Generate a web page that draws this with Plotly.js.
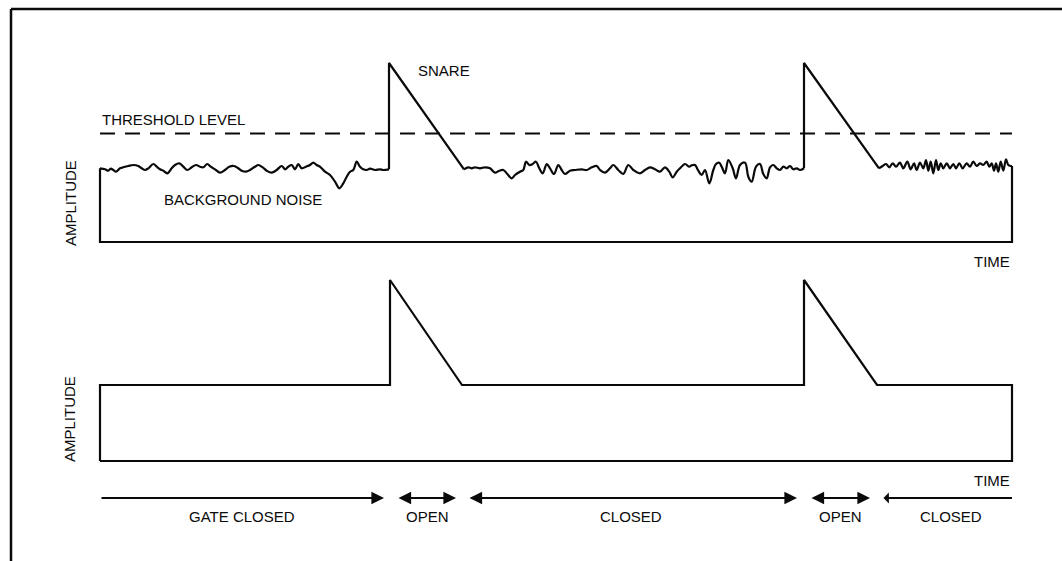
<!DOCTYPE html>
<html>
<head>
<meta charset="utf-8">
<script src="https://cdn.plot.ly/plotly-3.0.1.min.js"></script>
<style>
html,body{margin:0;padding:0;background:#fff;}
#chart{width:1062px;height:561px;}
</style>
</head>
<body>
<div id="chart"></div>
<script>
// ---- DATA (time units along the axis, amplitude units up) ----
const timeEnd = 912;
const thresholdLevel = 108.5;

// input signal: background noise segments
const noise1T = [0,5,8.3,10.7,13.3,16,20,23.3,28.3,33.3,38.3,41.7,45,48.3,53.3,56.7,60,63.3,67.3,71.7,75,79.3,83.3,87.3,91.7,96,100,103.3,107.3,110.7,115,120,125,129.3,134,138.3,141.7,146,150,155,158.3,162.7,166.7,171.7,176.7,181.7,185,188.3,191.7,195,198.3,201.7,206,210,213.3,216.7,220.7,225,230,235,239.3,243.3,246.7,250,253.3,256.7,260,263.3,266.7,270,275,280,283.3,289];
const noise1A = [73.7,72.7,71.3,73.3,72,70.3,73.7,74.7,76,77,76,73.7,72,73.7,78,75.3,72.7,71.3,68.7,73.7,77,78.7,75.3,72,74.7,77,75.3,74.7,78,75.3,72.7,69.3,72,75.3,76,73.7,71.3,70.3,72,75.3,77,74.7,71.3,69.3,72,76,72.7,75.3,77,72.7,78,73.7,75.3,77,79.3,77,74.7,70.3,67,60.3,53.7,58.7,65.3,70.3,72,80.3,75.3,72.7,72,73.3,72,72.7,72,72.7];

const noise2T = [364,368.3,371.7,375,380,385,390,395,399.3,403.3,407.3,411.7,415,420,423.3,426,429.3,432.7,436,439.3,442.7,446.7,450,454,458.3,461.7,465,470,475,481.7,486.7,491.7,496.7,500,505,510,513.3,518.3,523.3,528.3,533.3,540,545,550,555,560,565,569.3,572.7,576.7,580,585,589.3,591.7,595,598.3,601.7,605,609.3,613.3,616,619.3,621.7,625,628.3,632.7,636,640,645,648.3,651.7,656,660,663.3,666.7,670,673.3,676.7,680,683.3,686.7,690,693.3,696.7,700,704];
const noise2A = [72.7,74.7,73.7,74.7,73.7,74.7,73.7,69.3,71.3,72,68,63.7,67,70.3,72,80.3,77,78,80.3,73.7,68.7,78,73.7,68,77,72,68,71.3,72,72.7,72,74.7,76,72,69.3,73.7,77,72,68,77,72,68.7,72,74.7,72.7,70.3,74.7,70.3,64.7,70.3,73.7,78,75.3,76.7,77,71.3,67,72,58.7,72,78,79.3,75.3,68.7,82,73.7,63.7,77,79.3,65.3,60.3,75.3,78,68,63.7,74.7,77,73.7,72,75.3,73.7,76,72.7,73.7,72,73.7];

const noise3T = [779,782.7,786,789.3,792.7,796,800,803.3,807.3,810.7,814,816.7,820,823.3,826,828.3,830.7,833.3,836,838.3,840.7,843.3,846.7,850,853.3,856,859.3,862.7,866.7,870,873.3,876.7,880,883.3,886.7,889.3,891.7,894,896,898.3,900.7,903.3,906,908.3,910.7,912];
const noise3A = [73.7,76,78,74.7,78.7,75.3,79.3,73.7,80.3,72.7,78.7,72,79.3,73.7,82,71.3,80.3,68.7,82,72,78.7,73.7,78.7,73.7,78,73.7,78.7,73.7,78.7,75.3,80.3,76,78.7,77,80.3,75.3,78.7,71.3,78.7,70.3,80.3,71.3,82.7,77,76,76];

// snare hits (onset time and peak amplitude)
const snareOnsetT = [289, 704];
const snarePeakA = [179, 179];

// gate output (lower graph)
const gateT = [0, 0, 290, 290, 362, 704, 704, 777, 912, 912, 0];
const gateA = [0, 76, 76, 181, 76, 76, 181, 76, 76, 0, 0];

// gate state spans
const spanStart = [0, 297, 368, 710, 782];
const spanEnd = [284, 356, 697, 770, 912];
const spanSide = ['end', 'end+start', 'end+start', 'end+start', 'start'];
const spanLabels = ['GATE CLOSED', 'OPEN', 'CLOSED', 'OPEN', 'CLOSED'];
const spanLabelX = [142, 327, 531, 740, 851];

// ---- BUILD ----
const last = a => a[a.length - 1];
const ink = '#0a0a0a';
const font = {family: 'Liberation Sans, Arial, Helvetica, sans-serif', size: 15, color: ink};
const lineStyle = {color: ink, width: 2.2};

// straight parts of the input signal: snare attacks/decays and the frame
const hitT = [snareOnsetT[0], snareOnsetT[0], noise2T[0], null, snareOnsetT[1], snareOnsetT[1], noise3T[0], null, last(noise3T), timeEnd, 0, 0];
const hitA = [last(noise1A), snarePeakA[0], noise2A[0], null, last(noise2A), snarePeakA[1], noise3A[0], null, last(noise3A), 0, 0, noise1A[0]];

const traces = [
  {x: hitT, y: hitA, xaxis: 'x', yaxis: 'y', mode: 'lines', line: lineStyle, hoverinfo: 'skip', cliponaxis: false, connectgaps: false},
  {x: noise1T, y: noise1A, xaxis: 'x', yaxis: 'y', mode: 'lines', line: Object.assign({shape: 'spline', smoothing: 1}, lineStyle), hoverinfo: 'skip'},
  {x: noise2T, y: noise2A, xaxis: 'x', yaxis: 'y', mode: 'lines', line: Object.assign({shape: 'spline', smoothing: 1}, lineStyle), hoverinfo: 'skip'},
  {x: noise3T, y: noise3A, xaxis: 'x', yaxis: 'y', mode: 'lines', line: Object.assign({shape: 'spline', smoothing: 1}, lineStyle), hoverinfo: 'skip'},
  {x: [0, timeEnd], y: [thresholdLevel, thresholdLevel], xaxis: 'x', yaxis: 'y', mode: 'lines', line: {color: ink, width: 2, dash: '15px,10px'}, hoverinfo: 'skip'},
  {x: gateT, y: gateA, xaxis: 'x', yaxis: 'y2', mode: 'lines', line: lineStyle, hoverinfo: 'skip', cliponaxis: false}
];

const annotations = [
  {x: 0, y: 123, xref: 'x', yref: 'y', text: 'THRESHOLD LEVEL', showarrow: false, xanchor: 'left', font: font},
  {x: 143, y: 43, xref: 'x', yref: 'y', text: 'BACKGROUND NOISE', showarrow: false, xanchor: 'center', font: font},
  {x: 316, y: 172, xref: 'x', yref: 'y', text: 'SNARE', showarrow: false, xanchor: 'left', font: font},
  {x: timeEnd, y: -19, xref: 'x', yref: 'y', text: 'TIME', showarrow: false, xanchor: 'right', font: font},
  {x: -30, y: 39, xref: 'x', yref: 'y', text: 'AMPLITUDE', showarrow: false, textangle: -90, font: font},
  {x: timeEnd, y: -19.6, xref: 'x', yref: 'y2', text: 'TIME', showarrow: false, xanchor: 'right', font: font},
  {x: -31, y: 42, xref: 'x', yref: 'y2', text: 'AMPLITUDE', showarrow: false, textangle: -90, font: font}
];
spanLabels.forEach((lab, i) => {
  annotations.push({x: spanEnd[i], y: -37, ax: spanStart[i], ay: -37, xref: 'x', yref: 'y2', axref: 'x', ayref: 'y2',
    text: '', showarrow: true, arrowhead: 2, arrowsize: 1.4, arrowwidth: 1.8, arrowcolor: ink, arrowside: spanSide[i], standoff: 0, startstandoff: 0});
  annotations.push({x: spanLabelX[i], y: -55, xref: 'x', yref: 'y2', text: lab, showarrow: false, font: font});
});

const hidden = {showgrid: false, zeroline: false, showline: false, showticklabels: false, ticks: '', fixedrange: true};

const layout = {
  width: 1062, height: 561,
  margin: {l: 0, r: 0, t: 0, b: 0},
  paper_bgcolor: '#ffffff', plot_bgcolor: '#ffffff',
  showlegend: false,
  xaxis: Object.assign({range: [-100, 962], domain: [0, 1]}, hidden),
  yaxis: Object.assign({range: [-319, 242], domain: [0, 1]}, hidden),
  yaxis2: Object.assign({range: [-100, 461], overlaying: 'y'}, hidden),
  annotations: annotations,
  shapes: [
    {type: 'line', xref: 'paper', yref: 'paper', x0: 11 / 1062, x1: 1, y0: 1 - 9 / 561, y1: 1 - 9 / 561, line: {color: ink, width: 2.5}},
    {type: 'line', xref: 'paper', yref: 'paper', x0: 11 / 1062, x1: 11 / 1062, y0: 1 - 9 / 561, y1: 0, line: {color: ink, width: 2.5}}
  ]
};

Plotly.newPlot('chart', traces, layout, {displayModeBar: false, staticPlot: true});
</script>
</body>
</html>
